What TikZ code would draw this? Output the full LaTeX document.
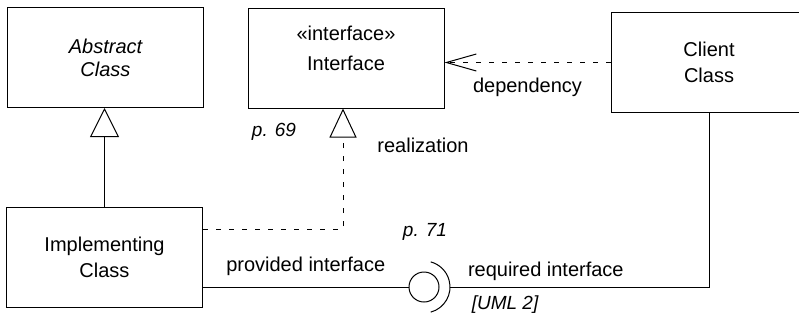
\documentclass[tikz,border=0pt]{standalone}
\usepackage{fontspec}
\setmainfont{Liberation Sans}
\usetikzlibrary{arrows.meta,positioning}

\begin{document}
\begin{tikzpicture}[x=1pt,y=-1pt,line width=1pt,
        every node/.style={font=\fontsize{20}{24}\selectfont},
        classbox/.style={draw,rectangle,minimum width=196pt,minimum height=100pt,align=center,
            font=\fontsize{20}{26}\selectfont},
        pageref/.style={font=\fontsize{19}{24}\selectfont\itshape},
        generalize/.style={-{Triangle[open,length=29pt,width=29pt]}},
        realize/.style={dash pattern=on 5pt off 8pt,-{Triangle[open,length=29pt,width=27pt]}},
        depend/.style={dash pattern=on 5pt off 8pt,-{Straight Barb[length=30pt,width=17pt]}}]
    \useasboundingbox (0,0) rectangle (799,322);
    \clip (0,0) rectangle (799,322);

    \node [classbox,font=\fontsize{20}{23}\selectfont\itshape] (abstract) at (105.5,57.5) {Abstract\\Class};
    \node [classbox] (iface) at (346,58) {};
    \node (stereo) at (346,33) {«interface»};
    \node (ifacename) at (346,63) {Interface};
    \node [classbox] (client) at (709,62.5) {Client\\Class};
    \node [classbox] (impl) at (104.5,257.5) {Implementing\\Class};
    \node [draw,circle,minimum size=30pt,inner sep=0pt] (ball) at (424,287) {};
    \coordinate (rbend) at (343,229);
    \coordinate (socket) at ([xshift=26pt]ball.center);

    \draw [generalize] (impl.north) -- (impl.north |- abstract.south);
    \draw [realize] (impl.east |- rbend) -| (iface.south -| rbend);
    \draw [depend] (client.west) -- node [below=12pt] (deplabel) {dependency} (client.west -| iface.east);
    \draw (ball.west -| impl.east) -- node [above=8pt] (provlabel) {provided interface} (ball.west);
    \draw ([shift={(75:26)}]ball.center) arc (75:-75:26);
    \draw (socket) -| node [pos=0.185,above=3pt] (reqlabel) {required interface} (client.south);

    \node (reallabel) at (423,145) {realization};
    \node [pageref] (p69) at (274,132) {p. 69};
    \node [pageref] (p71) at (425,232) {p. 71};
    \node [pageref,anchor=west] (uml2) at (468,305) {[UML 2]};
\end{tikzpicture}
\end{document}
